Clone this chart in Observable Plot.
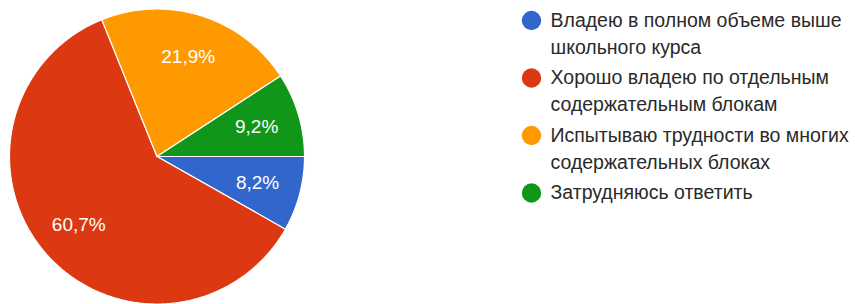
<!DOCTYPE html>
<html>
<head>
<meta charset="utf-8">
<script src="https://cdn.jsdelivr.net/npm/d3@7"></script>
<script src="https://cdn.jsdelivr.net/npm/@observablehq/plot@0.6"></script>
<style>
  html, body { margin: 0; padding: 0; background: #fff; }
  #chart svg { display: block; }
</style>
</head>
<body>
<div id="chart"></div>
<script>
// ---- data ----
const categories = [
  "Владею в полном объеме выше\nшкольного курса",
  "Хорошо владею по отдельным\nсодержательным блокам",
  "Испытываю трудности во многих\nсодержательных блоках",
  "Затрудняюсь ответить"
];
const values = [8.2, 60.7, 21.9, 9.2];
const colors = ["#3366cc", "#dc3912", "#ff9900", "#109618"];

// ---- layout ----
const W = 855, H = 304;
const cx = 156.5, cy = 156, R = 147.5, labelR = 0.705 * R;
const legendX = 531, legendTextX = 550, legendY0 = 20, legendStep = 57.5, lineStep = 27;

const pie = d3.pie().sort(null).value(d => d.value)
  .startAngle(Math.PI / 2).endAngle(Math.PI / 2 + 2 * Math.PI);
const arcs = pie(categories.map((c, i) => ({key: c, value: values[i]})));

const slicePts = [];
arcs.forEach(a => {
  const n = Math.max(8, Math.ceil((a.endAngle - a.startAngle) / 0.01));
  slicePts.push({key: a.data.key, x: cx, y: cy});
  for (let k = 0; k <= n; k++) {
    const t = a.startAngle + (a.endAngle - a.startAngle) * k / n;
    slicePts.push({key: a.data.key, x: cx + R * Math.sin(t), y: cy - R * Math.cos(t)});
  }
  slicePts.push({key: a.data.key, x: cx, y: cy});
});

const fmt = v => d3.format(".1f")(v).replace(".", ",") + "%";
const pieLabels = arcs.map(a => {
  const m = (a.startAngle + a.endAngle) / 2;
  return {text: fmt(a.data.value), x: cx + labelR * Math.sin(m), y: cy - labelR * Math.cos(m)};
});

const legendDots = categories.map((c, i) => ({key: c, x: legendX, y: legendY0 + i * legendStep}));
const legendLines = [];
categories.forEach((c, i) => {
  c.split("\n").forEach((line, j) => {
    legendLines.push({text: line, x: legendTextX, y: legendY0 + i * legendStep + j * lineStep});
  });
});

const chart = Plot.plot({
  width: W,
  height: H,
  margin: 0,
  x: {domain: [0, W], range: [0, W], axis: null},
  y: {domain: [0, H], range: [0, H], axis: null},
  color: {domain: categories, range: colors},
  style: {fontFamily: "'Liberation Sans', Arial, sans-serif", background: "#fff"},
  marks: [
    Plot.line(slicePts, {x: "x", y: "y", z: "key", fill: "key", stroke: "#ffffff", strokeWidth: 1.2, strokeLinejoin: "miter", curve: "linear"}),
    Plot.text(pieLabels, {x: "x", y: "y", text: "text", fill: "#ffffff", fontSize: 19, textAnchor: "middle"}),
    Plot.dot(legendDots, {x: "x", y: "y", fill: "key", r: 9.7, stroke: null}),
    Plot.text(legendLines, {x: "x", y: "y", text: "text", fill: "#2a2a2a", fontSize: 19.5, textAnchor: "start"})
  ]
});
document.getElementById("chart").appendChild(chart);
</script>
</body>
</html>
